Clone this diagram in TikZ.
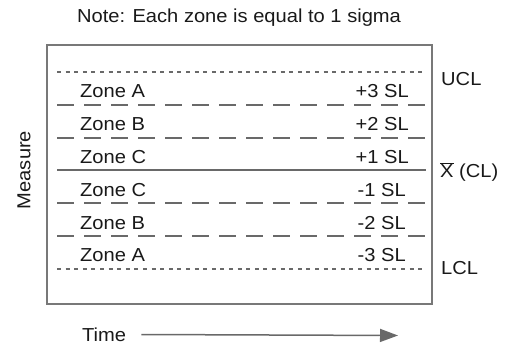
\documentclass[tikz,border=0pt]{standalone}
\usepackage{fontspec}
\setmainfont{Liberation Sans}[FakeStretch=1.07]
\usetikzlibrary{arrows.meta}
\definecolor{txt}{RGB}{25,25,25}
\definecolor{ln}{RGB}{105,105,105}
\definecolor{bx}{RGB}{120,120,120}
\tikzset{
  lbl/.style={inner sep=0pt, text=txt, font=\fontsize{18.8pt}{21pt}\selectfont},
  zonel/.style={lbl, anchor=base west},
  zoner/.style={lbl, anchor=base east},
  dashline/.style={draw=ln, line width=2pt, dash pattern=on 17pt off 10pt},
  dotline/.style={draw=ln, line width=2pt, dash pattern=on 4pt off 4.6pt},
  solidline/.style={draw=ln, line width=2pt},
  frame/.style={draw=bx, line width=2pt},
}
\begin{document}
\begin{tikzpicture}[x=1pt,y=-1pt]
\useasboundingbox (0,0) rectangle (505,344);
% title
\node[lbl] (title) at (239,18) {Note: Each zone is equal to 1 sigma};
% frame
\draw[frame] (47,45) rectangle (432,304);
% lines
\draw[dotline] (57,72) -- (424,72);
\draw[dashline] (57,104.8) -- (426,104.8);
\draw[dashline] (57,137.6) -- (426,137.6);
\draw[solidline] (57,170.5) -- (426,170.5);
\draw[dashline] (57,203.3) -- (426,203.3);
\draw[dashline] (57,236.1) -- (426,236.1);
\draw[dotline] (57,268.9) -- (424,268.9);
% zone labels
\node[zonel] (za1) at (80,97.8) {Zone A};
\node[zoner] (sl3) at (409,97.8) {+3 SL};
\node[zonel] (zb1) at (80,130.6) {Zone B};
\node[zoner] (sl2) at (409,130.6) {+2 SL};
\node[zonel] (zc1) at (80,163.5) {Zone C};
\node[zoner] (sl1) at (409,163.5) {+1 SL};
\node[zonel] (zc2) at (80,196.3) {Zone C};
\node[zoner] (slm1) at (406,196.3) {-1 SL};
\node[zonel] (zb2) at (80,229.1) {Zone B};
\node[zoner] (slm2) at (406,229.1) {-2 SL};
\node[zonel] (za2) at (80,261.9) {Zone A};
\node[zoner] (slm3) at (406,261.9) {-3 SL};
% right labels
\node[lbl, anchor=west] (ucl) at (441,79) {UCL};
\node[lbl, anchor=west] (cl) at (440,172) {$\overline{\hbox{X}}$ (CL)};
\node[lbl, anchor=west] (lcl) at (441,268) {LCL};
% axis labels
\node[lbl, rotate=90] (measure) at (24,170) {Measure};
\node[lbl, anchor=west] (time) at (82,334.5) {Time};
\coordinate (tend) at (398,335.5);
\draw[draw=ln, line width=1.5pt, -{Triangle[length=18pt,width=13pt]}, color=ln] ([xshift=15pt]time.east) -- (tend);
\end{tikzpicture}
\end{document}
